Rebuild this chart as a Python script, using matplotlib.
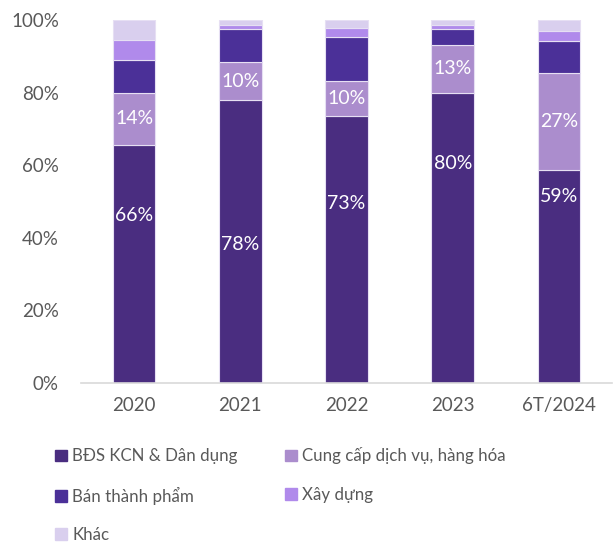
import numpy as np
import matplotlib.pyplot as plt
from matplotlib.patches import Patch

# du lieu doc tu bieu do (%)
periods = ["2020", "2021", "2022", "2023", "6T/2024"]
bds = [65.6, 78.0, 73.5, 80.0, 58.7]
dich_vu = [14.4, 10.4, 9.7, 13.1, 26.7]
ban_thanh_pham = [9.0, 9.1, 12.1, 4.4, 8.8]
xay_dung = [5.5, 1.2, 2.5, 1.2, 2.8]
khac = [5.5, 1.3, 2.2, 1.3, 3.0]

bds_labels = ["66%", "78%", "73%", "80%", "59%"]
dv_labels = ["14%", "10%", "10%", "13%", "27%"]

series = [
    ("BĐS KCN & Dân dụng", bds, "#4a2d80"),
    ("Cung cấp dịch vụ, hàng hóa", dich_vu, "#ab8dcd"),
    ("Bán thành phẩm", ban_thanh_pham, "#4b3098"),
    ("Xây dựng", xay_dung, "#b08aeb"),
    ("Khác", khac, "#d9cfee"),
]

plt.rcParams['font.family'] = ['Lato', 'DejaVu Sans']
txt_color = "#595959"

fig = plt.figure(figsize=(6.15, 5.43), dpi=100)
ax = fig.add_axes([0.132, 0.295, 0.863, 0.668])

x = np.arange(len(periods))
bottom = np.zeros(len(periods))
bars = []
for name, vals, col in series:
    b = ax.bar(x, vals, 0.4, bottom=bottom, color=col, edgecolor="#e6dff3",
               linewidth=0.8, label=name)
    bars.append(b)
    bottom += np.array(vals)

# nhan cho BDS (vi tri lech nhu ban goc) va dich vu (giua doan)
bds_label_y = [46, 38, 49.3, 60.6, 51.5]
for i, lab in enumerate(bds_labels):
    ax.text(x[i], bds_label_y[i], lab, ha="center", va="center",
            color="white", fontsize=14)
ax.bar_label(bars[1], labels=dv_labels, label_type="center",
             color="white", fontsize=14)

ax.set_xlim(-0.5, len(periods) - 0.5)
ax.set_ylim(0, 100)
ax.set_yticks(range(0, 101, 20))
ax.set_yticklabels([f"{v}%" for v in range(0, 101, 20)])
ax.set_xticks(x)
ax.set_xticklabels(periods)
ax.tick_params(length=0, labelsize=13.5, colors=txt_color, pad=16)
ax.tick_params(axis="x", pad=10)
for s in ["top", "right", "left"]:
    ax.spines[s].set_visible(False)
ax.spines["bottom"].set_color("#d9d9d9")
ax.spines["bottom"].set_linewidth(1.2)

# matplotlib dien legend theo cot -> sap lai thu tu de doc theo hang
order = [0, 2, 4, 1, 3]
handles = [Patch(color=series[i][2], label=series[i][0]) for i in order]
leg = fig.legend(handles=handles, loc="upper left", bbox_to_anchor=(0.065, 0.204),
                 ncol=2, frameon=False, fontsize=12.2, handlelength=0.7,
                 handleheight=0.7, handletextpad=0.3, columnspacing=2.8,
                 labelspacing=1.3, labelcolor=txt_color)

fig.savefig("out.png", dpi=100)
